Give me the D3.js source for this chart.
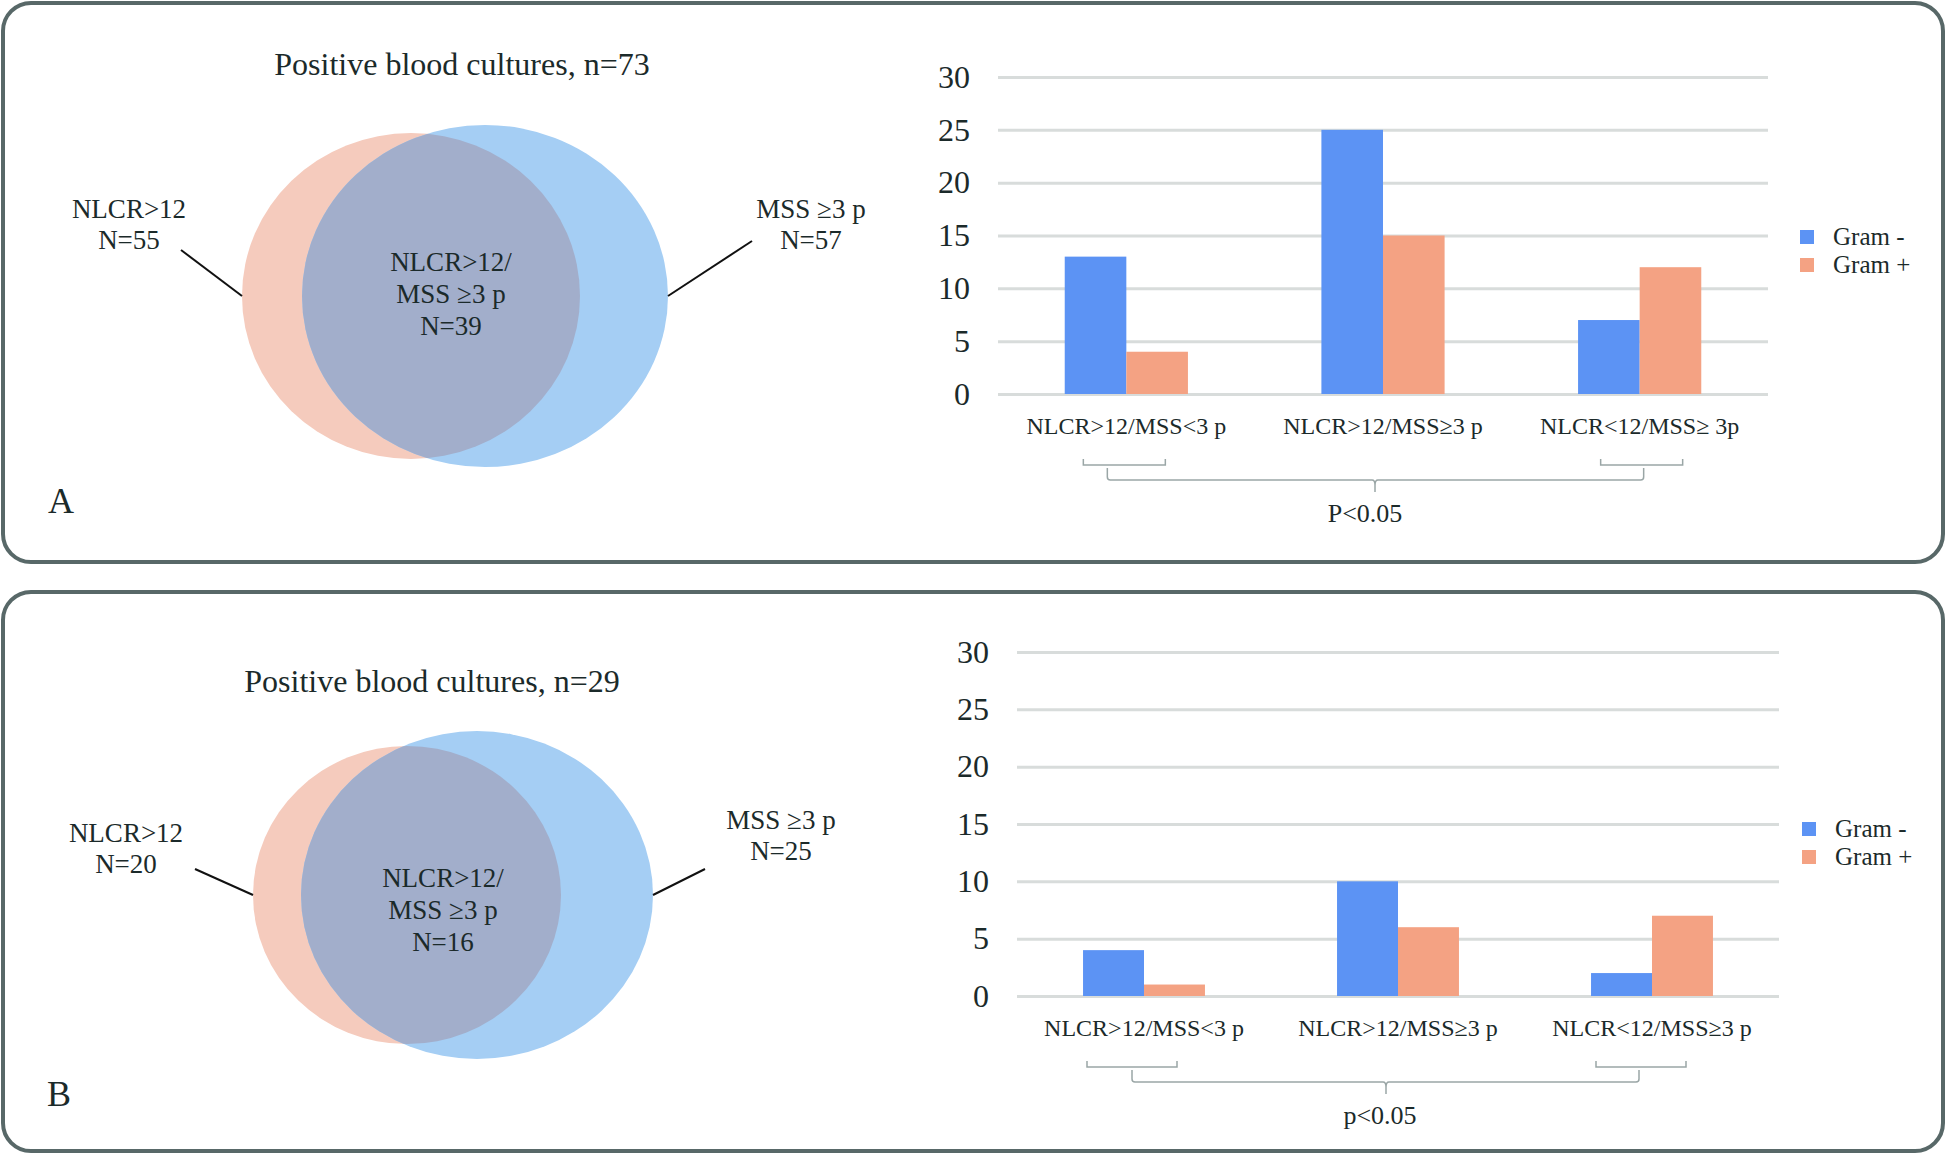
<!DOCTYPE html>
<html>
<head>
<meta charset="utf-8">
<script src="https://cdn.jsdelivr.net/npm/d3@7"></script>
<style>
  body { margin: 0; background: #fff; }
  svg { display: block; }
  text { font-family: "Liberation Serif", "Times New Roman", serif; fill: #1b2a2a; }
</style>
</head>
<body>
<div id="chart"></div>
<script>
// data
var categoriesA = ["NLCR>12/MSS<3 p", "NLCR>12/MSS\u22653 p", "NLCR<12/MSS\u2265 3p"];
var gramNegA = [13, 25, 7];
var gramPosA = [4, 15, 12];
var categoriesB = ["NLCR>12/MSS<3 p", "NLCR>12/MSS\u22653 p", "NLCR<12/MSS\u22653 p"];
var gramNegB = [4, 10, 2];
var gramPosB = [1, 6, 7];
var seriesNames = ["Gram -", "Gram +"];
var yTicks = [0, 5, 10, 15, 20, 25, 30];
var vennCountsA = [55, 57, 39]; // NLCR>12, MSS>=3, both
var vennCountsB = [20, 25, 16];
var totalA = 73;
var totalB = 29;

var W = 1946, H = 1154;
var colNeg = "#5c93f4", colPos = "#f4a283";

var svg = d3.select("#chart").append("svg")
    .attr("width", W)
    .attr("height", H);

function drawPanel(p) {
    var g = svg.append("g");

    // frame
    g.append("rect")
        .attr("x", 3).attr("y", p.top)
        .attr("width", W - 6).attr("height", p.height)
        .attr("rx", 28).attr("ry", 28)
        .attr("fill", "none")
        .attr("stroke", "#586868")
        .attr("stroke-width", 4);

    // title
    g.append("text")
        .attr("x", p.titleX).attr("y", p.titleY)
        .attr("text-anchor", "middle")
        .attr("font-size", 32)
        .text("Positive blood cultures, n=" + p.total);

    // venn
    var clipId = "clip" + p.letter;
    g.append("clipPath").attr("id", clipId)
        .append("ellipse")
        .attr("cx", p.blue.cx).attr("cy", p.blue.cy)
        .attr("rx", p.blue.rx).attr("ry", p.blue.ry);

    g.append("ellipse")
        .attr("cx", p.salmon.cx).attr("cy", p.salmon.cy)
        .attr("rx", p.salmon.rx).attr("ry", p.salmon.ry)
        .attr("fill", "#f5cbbd");
    g.append("ellipse")
        .attr("cx", p.blue.cx).attr("cy", p.blue.cy)
        .attr("rx", p.blue.rx).attr("ry", p.blue.ry)
        .attr("fill", "#a5cef4");
    g.append("ellipse")
        .attr("clip-path", "url(#" + clipId + ")")
        .attr("cx", p.salmon.cx).attr("cy", p.salmon.cy)
        .attr("rx", p.salmon.rx).attr("ry", p.salmon.ry)
        .attr("fill", "#a2aecb");

    // leader lines
    g.append("line")
        .attr("x1", p.leftLine[0]).attr("y1", p.leftLine[1])
        .attr("x2", p.salmon.cx - p.salmon.rx).attr("y2", p.salmon.cy)
        .attr("stroke", "#111").attr("stroke-width", 2);
    g.append("line")
        .attr("x1", p.rightLine[0]).attr("y1", p.rightLine[1])
        .attr("x2", p.blue.cx + p.blue.rx).attr("y2", p.blue.cy)
        .attr("stroke", "#111").attr("stroke-width", 2);

    function multiline(x, y, lines, lh) {
        var t = g.append("text")
            .attr("x", x).attr("y", y)
            .attr("text-anchor", "middle")
            .attr("font-size", 27);
        lines.forEach(function(l, i) {
            t.append("tspan").attr("x", x).attr("y", y + i * lh).text(l);
        });
    }
    multiline(p.leftLab[0], p.leftLab[1], ["NLCR>12", "N=" + p.counts[0]], 31);
    multiline(p.rightLab[0], p.rightLab[1], ["MSS \u22653 p", "N=" + p.counts[1]], 31);
    multiline(p.midLab[0], p.midLab[1], ["NLCR>12/", "MSS \u22653 p", "N=" + p.counts[2]], 32);

    // panel letter
    g.append("text")
        .attr("x", p.letterX).attr("y", p.letterY)
        .attr("font-size", 36)
        .text(p.letter);

    // bar chart
    var y = d3.scaleLinear().domain([0, 30]).range([p.y0, p.y30]);
    var x = d3.scaleBand().domain(p.categories).range([p.x0, p.x1]);
    var bw = x.bandwidth() * 0.24;
    var xs = d3.scaleBand().domain(seriesNames).range([-bw, bw]);

    var yAxis = d3.axisLeft(y).tickValues(yTicks)
        .tickSize(-(p.x1 - p.x0)).tickPadding(28);
    var ag = g.append("g")
        .attr("transform", "translate(" + p.x0 + ",0)")
        .call(yAxis);
    ag.select(".domain").remove();
    ag.selectAll(".tick line").attr("stroke", "#d8dcdb").attr("stroke-width", 3);
    ag.selectAll(".tick text")
        .attr("font-size", 32)
        .attr("font-family", "Liberation Serif, serif")
        .attr("fill", "#1b2a2a");

    var rows = p.categories.map(function(c, i) {
        return [{ cat: c, s: seriesNames[0], v: p.neg[i] }, { cat: c, s: seriesNames[1], v: p.pos[i] }];
    });
    var cg = g.selectAll(".grp").data(rows).enter().append("g")
        .attr("transform", function(d) {
            return "translate(" + (x(d[0].cat) + x.bandwidth() / 2) + ",0)";
        });
    cg.selectAll("rect").data(function(d) { return d; }).enter().append("rect")
        .attr("x", function(d) { return xs(d.s); })
        .attr("width", xs.bandwidth())
        .attr("y", function(d) { return y(d.v); })
        .attr("height", function(d) { return y(0) - y(d.v); })
        .attr("fill", function(d) { return d.s == seriesNames[0] ? colNeg : colPos; });

    // category labels
    g.selectAll(".cat").data(p.categories).enter().append("text")
        .attr("x", function(d) { return x(d) + x.bandwidth() / 2; })
        .attr("y", p.y0 + 40)
        .attr("text-anchor", "middle")
        .attr("font-size", 24)
        .text(function(d) { return d; });

    // legend
    seriesNames.forEach(function(s, i) {
        g.append("rect")
            .attr("x", p.legX).attr("y", p.legY + i * 28)
            .attr("width", 14).attr("height", 14)
            .attr("fill", i == 0 ? colNeg : colPos);
        g.append("text")
            .attr("x", p.legX + 33).attr("y", p.legY + i * 28 + 15)
            .attr("font-size", 25)
            .text(s);
    });

    // brackets (offsets from the group centres)
    var b = p.brk;
    var c1 = x(p.categories[0]) + x.bandwidth() / 2;
    var c2 = x(p.categories[1]) + x.bandwidth() / 2;
    var c3 = x(p.categories[2]) + x.bandwidth() / 2;
    var by = p.y0 + 65;
    [c1 + b.s1, c3 + b.s3].forEach(function(c) {
        g.append("path")
            .attr("d", "M" + (c - b.half) + "," + by + "V" + (by + 6) + "H" + (c + b.half) + "V" + by)
            .attr("fill", "none").attr("stroke", "#9aa6a6").attr("stroke-width", 1.5);
    });
    var l = c1 + b.l, r = c3 + b.r, m = c2 + b.m;
    g.append("path")
        .attr("d", "M" + l + "," + (by + 9) + "V" + (by + 18) + "Q" + l + "," + (by + 21) + " " + (l + 3) + "," + (by + 21) +
            "H" + (m - 3) + "Q" + m + "," + (by + 21) + " " + m + "," + (by + 26) + "V" + (by + 33) +
            "M" + m + "," + (by + 26) + "Q" + m + "," + (by + 21) + " " + (m + 3) + "," + (by + 21) +
            "H" + (r - 3) + "Q" + r + "," + (by + 21) + " " + r + "," + (by + 18) + "V" + (by + 9))
        .attr("fill", "none").attr("stroke", "#9aa6a6").attr("stroke-width", 1.5);

    g.append("text")
        .attr("x", m + p.pdx).attr("y", by + 63)
        .attr("text-anchor", "middle")
        .attr("font-size", 26)
        .text(p.pText);
}

drawPanel({
    letter: "A", top: 3, height: 559, total: totalA,
    titleX: 462, titleY: 75,
    salmon: { cx: 411, cy: 296, rx: 169, ry: 163 },
    blue: { cx: 485, cy: 296, rx: 183, ry: 171 },
    leftLine: [181, 250], rightLine: [752, 241],
    leftLab: [129, 218], rightLab: [811, 218], midLab: [451, 271],
    counts: vennCountsA,
    letterX: 48, letterY: 513,
    categories: categoriesA, neg: gramNegA, pos: gramPosA,
    x0: 998, x1: 1768, y0: 394, y30: 77,
    legX: 1800, legY: 230,
    brk: { s1: -2, s3: 2, half: 41, l: -19, r: 4, m: -8 },
    pdx: -10,
    pText: "P<0.05"
});

drawPanel({
    letter: "B", top: 592, height: 559, total: totalB,
    titleX: 432, titleY: 692,
    salmon: { cx: 407, cy: 895, rx: 154, ry: 149 },
    blue: { cx: 477, cy: 895, rx: 176, ry: 164 },
    leftLine: [195, 869], rightLine: [705, 869],
    leftLab: [126, 842], rightLab: [781, 829], midLab: [443, 887],
    counts: vennCountsB,
    letterX: 47, letterY: 1106,
    categories: categoriesB, neg: gramNegB, pos: gramPosB,
    x0: 1017, x1: 1779, y0: 996, y30: 652,
    legX: 1802, legY: 822,
    brk: { s1: -12, s3: -11, half: 45, l: -12, r: -13, m: -12 },
    pdx: -6,
    pText: "p<0.05"
});
</script>
</body>
</html>
